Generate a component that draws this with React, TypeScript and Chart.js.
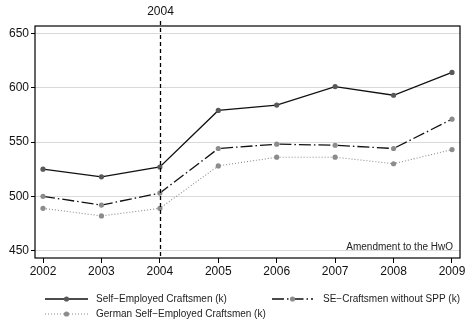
import React, { useEffect, useRef } from "react";
import { Chart, registerables } from "chart.js";

Chart.register(...registerables);

const years = [2002, 2003, 2004, 2005, 2006, 2007, 2008, 2009];
const selfEmployed = [525, 518, 527, 579, 584, 601, 593, 614];
const seWithoutSPP = [500, 492, 503, 544, 548, 547, 544, 571];
const germanSE = [489, 482, 489, 528, 536, 536, 530, 543];
const yTicks = [450, 500, 550, 600, 650];
const seriesLabels = [
  "Self\u2212Employed Craftsmen (k)",
  "SE\u2212Craftsmen without SPP (k)",
  "German Self\u2212Employed Craftsmen (k)",
];
const noteText = "Amendment to the HwO";
const markerYear = 2004;

const FONT = "'Liberation Sans', Arial, sans-serif";

export default function App() {
  const ref = useRef<HTMLCanvasElement | null>(null);
  useEffect(() => {
    if (!ref.current) return;
    const styles = [
      { color: "#111", dash: [] as number[], width: 1.3, point: "#595959" },
      { color: "#111", dash: [12, 3, 1.5, 3], width: 1.3, point: "#8c8c8c" },
      { color: "#8c8c8c", dash: [1, 2], width: 1.1, point: "#8c8c8c" },
    ];
    const series = [selfEmployed, seWithoutSPP, germanSE];

    const overlay = {
      id: "overlay",
      afterDatasetsDraw(chart: any) {
        const { ctx, chartArea, scales } = chart;
        ctx.save();
        // box
        ctx.strokeStyle = "#000";
        ctx.lineWidth = 1.2;
        ctx.setLineDash([]);
        ctx.strokeRect(chartArea.left, chartArea.top, chartArea.right - chartArea.left, chartArea.bottom - chartArea.top);
        // vertical dashed
        const x = Math.round(scales.x.getPixelForValue(markerYear)) + 0.5;
        ctx.beginPath();
        ctx.setLineDash([4, 3]);
        ctx.lineWidth = 1.3;
        ctx.moveTo(x, chartArea.top - 5);
        ctx.lineTo(x, chartArea.bottom);
        ctx.stroke();
        ctx.setLineDash([]);
        // top label
        ctx.fillStyle = "#111";
        ctx.font = "12px " + FONT;
        ctx.textAlign = "center";
        ctx.textBaseline = "middle";
        ctx.fillText(String(markerYear), x, 12);
        // note
        ctx.fillStyle = "#222";
        ctx.font = "10px " + FONT;
        ctx.textAlign = "right";
        ctx.textBaseline = "middle";
        ctx.fillText(noteText, chartArea.right - 7, chartArea.bottom - 11);
        // legend
        const items = [
          { x0: 45, x1: 88, tx: 96, y: 299 },
          { x0: 272, x1: 313, tx: 323, y: 299 },
          { x0: 45, x1: 88, tx: 96, y: 314 },
        ];
        items.forEach((it, i) => {
          const s = styles[i];
          ctx.beginPath();
          ctx.strokeStyle = s.color;
          ctx.lineWidth = s.width;
          ctx.setLineDash(s.dash);
          ctx.moveTo(it.x0, it.y);
          ctx.lineTo(it.x1, it.y);
          ctx.stroke();
          ctx.setLineDash([]);
          ctx.beginPath();
          ctx.fillStyle = s.point;
          ctx.arc((it.x0 + it.x1) / 2, it.y, 2.6, 0, Math.PI * 2);
          ctx.fill();
          ctx.fillStyle = "#222";
          ctx.textAlign = "left";
          ctx.textBaseline = "middle";
          ctx.fillText(seriesLabels[i], it.tx, it.y);
        });
        ctx.restore();
      },
    };

    const chart = new Chart(ref.current, {
      type: "line",
      data: {
        datasets: series.map((d, i) => ({
          label: seriesLabels[i],
          data: d.map((v, j) => ({ x: years[j], y: v })),
          borderColor: styles[i].color,
          borderWidth: styles[i].width,
          borderDash: styles[i].dash,
          pointBackgroundColor: styles[i].point,
          pointBorderColor: styles[i].point,
          pointRadius: 2.6,
          pointBorderWidth: 0,
          tension: 0,
          fill: false,
        })),
      },
      options: {
        animation: false,
        responsive: false,
        events: [],
        layout: { padding: { left: 0, right: 9, top: 26, bottom: 0 } },
        plugins: { legend: { display: false }, tooltip: { enabled: false } },
        scales: {
          x: {
            type: "linear",
            position: "bottom",
            min: 2001.863,
            max: 2009.137,
            afterBuildTicks: (axis: any) => {
              axis.ticks = years.map((v) => ({ value: v }));
            },
            afterFit: (axis: any) => {
              axis.height = 68;
            },
            ticks: {
              autoSkip: false,
              maxRotation: 0,
              color: "#111",
              font: { size: 12, family: FONT },
              padding: 1,
              callback: (v: any) => String(v),
            },
            grid: { drawOnChartArea: false, drawTicks: true, tickLength: 5, tickColor: "#000" },
            border: { display: false },
          },
          y: {
            type: "linear",
            min: 443.3,
            max: 656.7,
            afterBuildTicks: (axis: any) => {
              axis.ticks = yTicks.map((v) => ({ value: v }));
            },
            afterFit: (axis: any) => {
              axis.width = 35;
            },
            ticks: {
              color: "#111",
              font: { size: 12, family: FONT },
              padding: 2,
            },
            grid: { color: "#d9d9d9", lineWidth: 1, drawTicks: true, tickLength: 4, tickColor: "#000" },
            border: { display: false },
          },
        },
      },
      plugins: [overlay],
    } as any);
    return () => chart.destroy();
  }, []);
  return (
    <div style={{ position: "fixed", left: 0, top: 0, width: 469, height: 326, background: "#fff" }}>
      <canvas ref={ref} width={469} height={326} style={{ display: "block" }} />
    </div>
  );
}
